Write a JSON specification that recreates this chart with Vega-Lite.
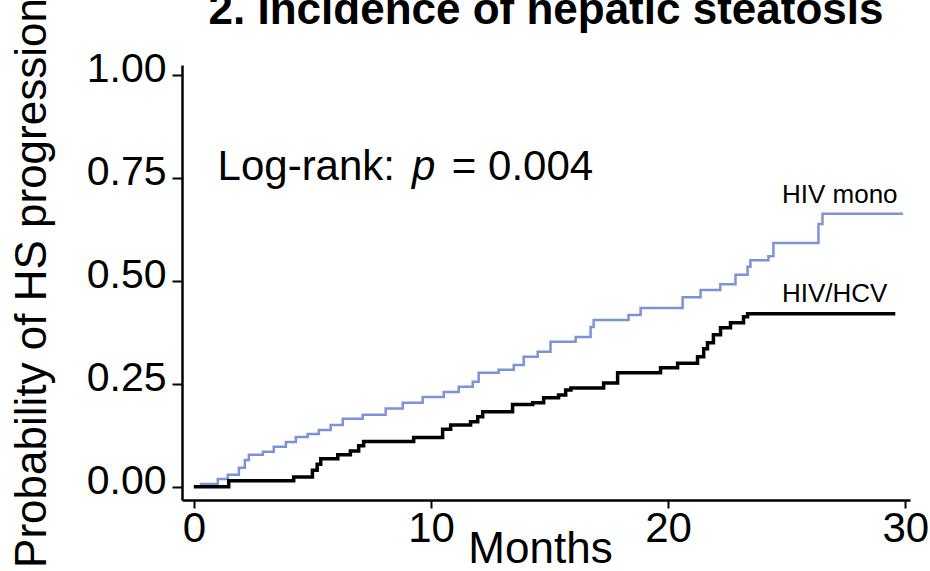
{
  "$schema": "https://vega.github.io/schema/vega-lite/v6.json",
  "width": 728,
  "height": 435,
  "autosize": {"type": "none"},
  "padding": {"left": 182, "top": 65, "right": 20, "bottom": 71},
  "background": "white",
  "config": {
    "font": "Liberation Sans",
    "view": {"stroke": null},
    "axis": {
      "grid": false,
      "domainColor": "black",
      "domainWidth": 2.5,
      "tickColor": "black",
      "tickWidth": 2,
      "labelColor": "black",
      "titleColor": "black",
      "labelFont": "Liberation Sans",
      "titleFont": "Liberation Sans",
      "labelFontWeight": "normal",
      "titleFontWeight": "normal"
    }
  },
  "title": {
    "text": "2. Incidence of hepatic steatosis",
    "font": "Liberation Sans",
    "fontSize": 44,
    "fontWeight": "bold",
    "color": "black",
    "anchor": "middle",
    "offset": -35
  },
  "datasets": {
    "km": [
      {"group": "HIV mono", "month": 0, "prob": 0},
      {"group": "HIV mono", "month": 0.3, "prob": 0.007},
      {"group": "HIV mono", "month": 1.01, "prob": 0.019},
      {"group": "HIV mono", "month": 1.43, "prob": 0.029},
      {"group": "HIV mono", "month": 1.9, "prob": 0.046},
      {"group": "HIV mono", "month": 2.15, "prob": 0.065},
      {"group": "HIV mono", "month": 2.32, "prob": 0.078},
      {"group": "HIV mono", "month": 2.91, "prob": 0.085},
      {"group": "HIV mono", "month": 3.37, "prob": 0.097},
      {"group": "HIV mono", "month": 3.88, "prob": 0.109},
      {"group": "HIV mono", "month": 4.3, "prob": 0.121},
      {"group": "HIV mono", "month": 4.8, "prob": 0.128},
      {"group": "HIV mono", "month": 5.27, "prob": 0.138},
      {"group": "HIV mono", "month": 5.77, "prob": 0.15},
      {"group": "HIV mono", "month": 6.28, "prob": 0.165},
      {"group": "HIV mono", "month": 7.12, "prob": 0.175},
      {"group": "HIV mono", "month": 8.09, "prob": 0.19},
      {"group": "HIV mono", "month": 8.81, "prob": 0.204},
      {"group": "HIV mono", "month": 9.65, "prob": 0.218},
      {"group": "HIV mono", "month": 10.54, "prob": 0.23},
      {"group": "HIV mono", "month": 11.17, "prob": 0.243},
      {"group": "HIV mono", "month": 11.76, "prob": 0.255},
      {"group": "HIV mono", "month": 12.01, "prob": 0.277},
      {"group": "HIV mono", "month": 12.85, "prob": 0.284},
      {"group": "HIV mono", "month": 13.49, "prob": 0.296},
      {"group": "HIV mono", "month": 13.91, "prob": 0.316},
      {"group": "HIV mono", "month": 14.5, "prob": 0.328},
      {"group": "HIV mono", "month": 15.04, "prob": 0.352},
      {"group": "HIV mono", "month": 16.1, "prob": 0.364},
      {"group": "HIV mono", "month": 16.73, "prob": 0.388},
      {"group": "HIV mono", "month": 16.86, "prob": 0.405},
      {"group": "HIV mono", "month": 18.33, "prob": 0.417},
      {"group": "HIV mono", "month": 18.84, "prob": 0.434},
      {"group": "HIV mono", "month": 20.61, "prob": 0.46},
      {"group": "HIV mono", "month": 21.37, "prob": 0.478},
      {"group": "HIV mono", "month": 22.2, "prob": 0.492},
      {"group": "HIV mono", "month": 22.84, "prob": 0.515},
      {"group": "HIV mono", "month": 23.35, "prob": 0.534},
      {"group": "HIV mono", "month": 23.47, "prob": 0.55},
      {"group": "HIV mono", "month": 24.23, "prob": 0.56},
      {"group": "HIV mono", "month": 24.44, "prob": 0.592},
      {"group": "HIV mono", "month": 26.34, "prob": 0.638},
      {"group": "HIV mono", "month": 26.51, "prob": 0.663},
      {"group": "HIV mono", "month": 29.9, "prob": 0.663},
      {"group": "HIV/HCV", "month": 0, "prob": 0},
      {"group": "HIV/HCV", "month": 1.47, "prob": 0.015},
      {"group": "HIV/HCV", "month": 4.21, "prob": 0.024},
      {"group": "HIV/HCV", "month": 5.0, "prob": 0.04},
      {"group": "HIV/HCV", "month": 5.2, "prob": 0.055},
      {"group": "HIV/HCV", "month": 5.35, "prob": 0.068},
      {"group": "HIV/HCV", "month": 6.07, "prob": 0.078},
      {"group": "HIV/HCV", "month": 6.6, "prob": 0.087},
      {"group": "HIV/HCV", "month": 6.95, "prob": 0.1},
      {"group": "HIV/HCV", "month": 7.16, "prob": 0.11},
      {"group": "HIV/HCV", "month": 9.27, "prob": 0.12},
      {"group": "HIV/HCV", "month": 10.49, "prob": 0.14},
      {"group": "HIV/HCV", "month": 10.83, "prob": 0.15},
      {"group": "HIV/HCV", "month": 11.67, "prob": 0.158},
      {"group": "HIV/HCV", "month": 11.97, "prob": 0.17},
      {"group": "HIV/HCV", "month": 12.18, "prob": 0.182},
      {"group": "HIV/HCV", "month": 13.44, "prob": 0.2},
      {"group": "HIV/HCV", "month": 14.29, "prob": 0.204},
      {"group": "HIV/HCV", "month": 14.75, "prob": 0.216},
      {"group": "HIV/HCV", "month": 15.38, "prob": 0.223},
      {"group": "HIV/HCV", "month": 15.68, "prob": 0.235},
      {"group": "HIV/HCV", "month": 15.9, "prob": 0.24},
      {"group": "HIV/HCV", "month": 17.28, "prob": 0.252},
      {"group": "HIV/HCV", "month": 17.87, "prob": 0.277},
      {"group": "HIV/HCV", "month": 19.68, "prob": 0.289},
      {"group": "HIV/HCV", "month": 20.4, "prob": 0.3},
      {"group": "HIV/HCV", "month": 21.24, "prob": 0.316},
      {"group": "HIV/HCV", "month": 21.5, "prob": 0.335},
      {"group": "HIV/HCV", "month": 21.66, "prob": 0.35},
      {"group": "HIV/HCV", "month": 21.91, "prob": 0.369},
      {"group": "HIV/HCV", "month": 22.21, "prob": 0.386},
      {"group": "HIV/HCV", "month": 22.63, "prob": 0.398},
      {"group": "HIV/HCV", "month": 23.18, "prob": 0.413},
      {"group": "HIV/HCV", "month": 23.35, "prob": 0.42},
      {"group": "HIV/HCV", "month": 29.58, "prob": 0.42}
    ],
    "logrank": [
      {"text": "Log-rank:", "month": 1.0, "prob": 0.745},
      {"text": "p", "month": 9.2, "prob": 0.745},
      {"text": "= 0.004", "month": 10.88, "prob": 0.745}
    ],
    "groups": [
      {"text": "HIV mono", "month": 24.8, "prob": 0.689},
      {"text": "HIV/HCV", "month": 24.8, "prob": 0.449}
    ]
  },
  "encoding": {
    "x": {
      "field": "month",
      "type": "quantitative",
      "scale": {"domain": [-0.5, 30.2], "nice": false, "zero": false},
      "axis": {
        "title": "Months",
        "values": [0, 10, 20, 30],
        "format": "d",
        "labelFontSize": 42,
        "titleFontSize": 44,
        "tickSize": 8,
        "labelPadding": 0,
        "titlePadding": -22,
        "titleX": 358,
        "labelFlush": false
      }
    },
    "y": {
      "field": "prob",
      "type": "quantitative",
      "scale": {"domain": [-0.032, 1.024], "nice": false, "zero": false},
      "axis": {
        "title": "Probability of HS progression",
        "values": [0, 0.25, 0.5, 0.75, 1],
        "format": ".2f",
        "labelFontSize": 41,
        "titleFontSize": 44,
        "tickSize": 10,
        "labelPadding": 6,
        "labelOffset": -5,
        "titlePadding": 32,
        "labelFlush": false
      }
    }
  },
  "layer": [
    {
      "data": {"name": "km"},
      "mark": {"type": "line", "interpolate": "step-after"},
      "encoding": {
        "color": {
          "field": "group",
          "type": "nominal",
          "scale": {"domain": ["HIV mono", "HIV/HCV"], "range": ["#7b93d8", "#000000"]},
          "legend": null
        },
        "strokeWidth": {
          "field": "group",
          "type": "nominal",
          "scale": {"domain": ["HIV mono", "HIV/HCV"], "range": [2.5, 3.5]},
          "legend": null
        }
      }
    },
    {
      "data": {"name": "logrank"},
      "transform": [{"filter": "datum.text !== 'p'"}],
      "mark": {"type": "text", "align": "left", "baseline": "alphabetic", "fontSize": 42, "color": "black", "font": "Liberation Sans"},
      "encoding": {"text": {"field": "text"}}
    },
    {
      "data": {"name": "logrank"},
      "transform": [{"filter": "datum.text === 'p'"}],
      "mark": {"type": "text", "align": "left", "baseline": "alphabetic", "fontSize": 42, "fontStyle": "italic", "color": "black", "font": "Liberation Sans"},
      "encoding": {"text": {"field": "text"}}
    },
    {
      "data": {"name": "groups"},
      "mark": {"type": "text", "align": "left", "baseline": "alphabetic", "fontSize": 26, "color": "black", "font": "Liberation Sans"},
      "encoding": {"text": {"field": "text"}}
    }
  ]
}
